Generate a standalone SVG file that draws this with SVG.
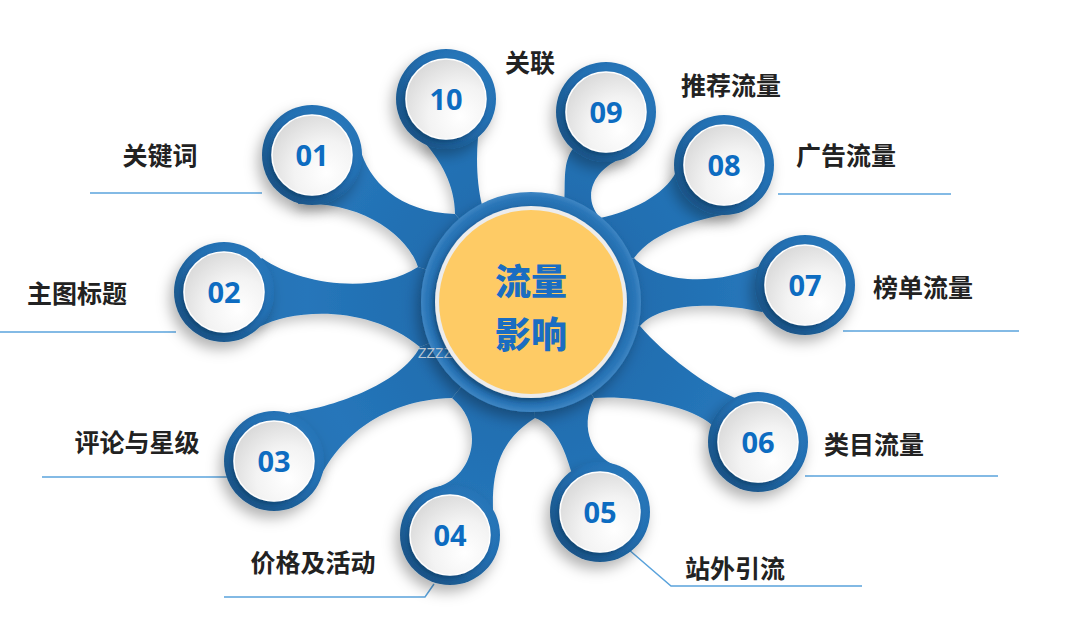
<svg xmlns="http://www.w3.org/2000/svg" width="1080" height="634" viewBox="0 0 1080 634">
<defs>
<filter id="sh" x="-50%" y="-50%" width="200%" height="200%"><feDropShadow dx="-4" dy="7" stdDeviation="7" flood-color="#000" flood-opacity="0.3"/></filter>
<filter id="sha" x="-20%" y="-20%" width="140%" height="140%"><feDropShadow dx="-3" dy="6" stdDeviation="6" flood-color="#000" flood-opacity="0.22"/></filter>
<filter id="shs" x="-30%" y="-30%" width="160%" height="160%"><feDropShadow dx="-2" dy="3" stdDeviation="2.5" flood-color="#0a2640" flood-opacity="0.45"/></filter>
<radialGradient id="ringG" cx="0.6" cy="0.4" r="0.62">
<stop offset="0" stop-color="#3484c6"/><stop offset="0.7" stop-color="#2370b3"/><stop offset="1" stop-color="#1b578b"/>
</radialGradient>
<radialGradient id="cRingG" cx="0.5" cy="0.5" r="0.5">
<stop offset="0.8" stop-color="#1d64a3"/><stop offset="0.95" stop-color="#2a76b8"/><stop offset="1" stop-color="#3f86c3"/>
</radialGradient>
<radialGradient id="discG" cx="0.68" cy="0.72" r="0.8">
<stop offset="0" stop-color="#ffffff"/><stop offset="0.5" stop-color="#f3f3f3"/><stop offset="1" stop-color="#d8d8d8"/>
</radialGradient>
<radialGradient id="armG" gradientUnits="userSpaceOnUse" cx="531" cy="302" r="320">
<stop offset="0.3" stop-color="#1f6cae"/><stop offset="0.7" stop-color="#2676ba"/><stop offset="1" stop-color="#2370b2"/>
</radialGradient>
</defs>
<style>
.arm{fill:url(#armG)}
.ring{fill:url(#ringG);filter:url(#sh)}
.disc{fill:url(#discG);stroke:#ffffff;stroke-width:1.5;filter:url(#shs)}
.num{font-family:"Open Sans","Liberation Sans",sans-serif;font-weight:700;font-size:29px;fill:#0d6cc1;text-anchor:middle}
.lbl{font-family:"Noto Sans CJK SC","Noto Sans",sans-serif;font-weight:700;font-size:25px;fill:#222222;text-anchor:middle}
.ul{stroke:#5aa3dc;stroke-width:1.5;fill:none}
.ctr{font-family:"Noto Sans CJK SC","Noto Sans",sans-serif;font-weight:900;font-size:36px;fill:#1a6dc2;text-anchor:middle}
</style>
<rect width="1080" height="634" fill="#ffffff"/>

<g id="connectors" filter="url(#sha)">
<path class="arm" d="M312 155 L360 148 C368 180 398 212 455 214 L531 302 L418 267 C408 235 360 200 298 204 Z"/>
<path class="arm" d="M224 292 L262 258 C300 285 375 295 418 267 L531 302 L420 347 C370 305 295 308 259 327 Z"/>
<path class="arm" d="M274 461 L290 413 C330 408 400 385 420 347 L531 302 L452 398 C380 400 340 440 322 474 Z"/>
<path class="arm" d="M450 535 L438 487 C475 475 485 425 452 398 L531 302 L535 418 C500 440 492 470 493 510 Z"/>
<path class="arm" d="M600 512 L571 471 C565 450 555 425 535 418 L531 302 L594 398 C578 430 595 458 615 465 Z"/>
<path class="arm" d="M758 442 L735 398 C705 385 665 355 640 326 L531 302 L594 398 C630 395 690 405 712 425 Z"/>
<path class="arm" d="M805 285 L762 265 C720 285 660 285 634 258 L531 302 L640 326 C660 302 720 302 762 312 Z"/>
<path class="arm" d="M724 165 L740 212 C700 218 655 230 634 258 L531 302 L600 218 C630 212 665 195 676 172 Z"/>
<path class="arm" d="M606 112 L631 155 C595 165 580 195 600 218 L531 302 L564 205 C566 185 562 165 572 150 Z"/>
<path class="arm" d="M446 99 L478 137 C476 160 477 185 482 205 L531 302 L455 214 C455 185 440 160 425 143 Z"/>
</g>

<g id="center">
<circle cx="531" cy="302" r="110" fill="url(#cRingG)" filter="url(#sh)"/>
<text x="418" y="358" font-family="Liberation Sans, sans-serif" font-size="14" fill="#b9c6d3">ZZZZ</text>
<circle cx="531" cy="302" r="96" fill="#ececec" filter="url(#shs)"/>
<circle cx="531" cy="302" r="92" fill="#fecb65"/>
<text class="ctr" x="531" y="295">流量</text>
<text class="ctr" x="531" y="348">影响</text>
</g>

<g id="node-01">
<line class="ul" x1="90" y1="193" x2="262" y2="193"/>
<circle class="ring" cx="312" cy="155" r="50"/>
<circle class="disc" cx="312" cy="155" r="40"/>
<text class="num" x="312" y="165.5">01</text>
<text class="lbl" x="160" y="165">关键词</text>
</g>
<g id="node-02">
<line class="ul" x1="0" y1="332" x2="176" y2="332"/>
<circle class="ring" cx="224" cy="292" r="50"/>
<circle class="disc" cx="224" cy="292" r="40"/>
<text class="num" x="224" y="302.5">02</text>
<text class="lbl" x="77" y="303">主图标题</text>
</g>
<g id="node-03">
<line class="ul" x1="42" y1="477" x2="234" y2="477"/>
<circle class="ring" cx="274" cy="461" r="50"/>
<circle class="disc" cx="274" cy="461" r="40"/>
<text class="num" x="274" y="471.5">03</text>
<text class="lbl" x="137" y="452">评论与星级</text>
</g>
<g id="node-04">
<polyline class="ul" points="224,597 425,597 434,584"/>
<circle class="ring" cx="450" cy="535" r="50"/>
<circle class="disc" cx="450" cy="535" r="40"/>
<text class="num" x="450" y="545.5">04</text>
<text class="lbl" x="313" y="572">价格及活动</text>
</g>
<g id="node-05">
<polyline class="ul" points="628,549 671,586 862,586"/>
<circle class="ring" cx="600" cy="512" r="50"/>
<circle class="disc" cx="600" cy="512" r="40"/>
<text class="num" x="600" y="522.5">05</text>
<text class="lbl" x="735" y="578">站外引流</text>
</g>
<g id="node-06">
<line class="ul" x1="805" y1="476" x2="998" y2="476"/>
<circle class="ring" cx="758" cy="442" r="50"/>
<circle class="disc" cx="758" cy="442" r="40"/>
<text class="num" x="758" y="452.5">06</text>
<text class="lbl" x="874" y="454">类目流量</text>
</g>
<g id="node-07">
<line class="ul" x1="843" y1="331" x2="1019" y2="331"/>
<circle class="ring" cx="805" cy="285" r="50"/>
<circle class="disc" cx="805" cy="285" r="40"/>
<text class="num" x="805" y="295.5">07</text>
<text class="lbl" x="923" y="297">榜单流量</text>
</g>
<g id="node-08">
<line class="ul" x1="778" y1="194" x2="951" y2="194"/>
<circle class="ring" cx="724" cy="165" r="50"/>
<circle class="disc" cx="724" cy="165" r="40"/>
<text class="num" x="724" y="175.5">08</text>
<text class="lbl" x="846" y="165">广告流量</text>
</g>
<g id="node-09">
<circle class="ring" cx="606" cy="112" r="50"/>
<circle class="disc" cx="606" cy="112" r="40"/>
<text class="num" x="606" y="122.5">09</text>
<text class="lbl" x="731" y="95">推荐流量</text>
</g>
<g id="node-10">
<circle class="ring" cx="446" cy="99" r="50"/>
<circle class="disc" cx="446" cy="99" r="40"/>
<text class="num" x="446" y="109.5">10</text>
<text class="lbl" x="530" y="72">关联</text>
</g>
</svg>
